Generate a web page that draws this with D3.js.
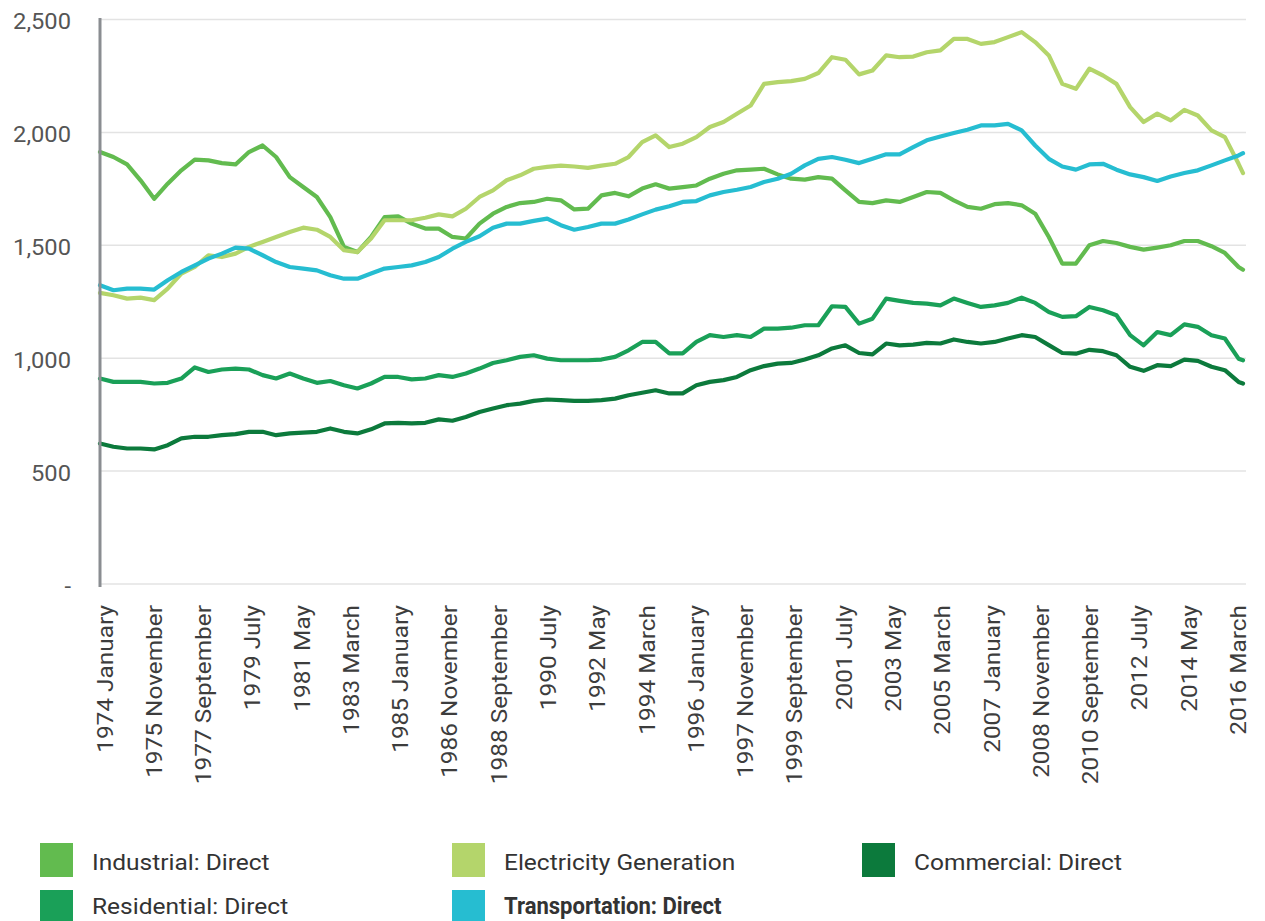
<!DOCTYPE html>
<html>
<head>
<meta charset="utf-8">
<script src="https://cdn.jsdelivr.net/npm/d3@7"></script>
<style>
  body { margin: 0; background: #fff; }
  svg { display: block; font-family: Roboto, "Noto Sans", sans-serif; }
</style>
</head>
<body>
<script>
// values every 6 months from 1974 January, last point 2016 March
let monthOffsets = d3.range(0, 505, 6).concat([506]);

let industrial = [1913,1891,1858,1788,1706,1773,1832,1879,1876,1864,
  1858,1913,1942,1891,1802,1758,1714,1625,1493,1470,
  1537,1625,1628,1596,1574,1574,1537,1530,1596,1640,
  1670,1687,1692,1706,1699,1659,1662,1721,1732,1717,
  1751,1770,1751,1758,1765,1795,1817,1832,1835,1839,
  1814,1795,1791,1802,1795,1743,1692,1687,1699,1692,
  1714,1736,1732,1699,1670,1662,1682,1687,1677,1640,
  1537,1419,1419,1500,1519,1510,1493,1481,1490,1500,
  1519,1519,1496,1466,1404,1392];

let electricity = [1289,1279,1264,1268,1257,1308,1375,1404,1456,1448,
  1463,1493,1515,1537,1559,1578,1569,1537,1478,1470,
  1530,1611,1611,1611,1622,1637,1628,1662,1714,1743,
  1788,1810,1839,1847,1853,1849,1843,1853,1861,1891,
  1957,1987,1935,1950,1979,2024,2046,2083,2119,2215,
  2223,2227,2237,2263,2333,2322,2257,2274,2341,2333,
  2336,2355,2363,2414,2414,2392,2400,2422,2444,2400,
  2341,2215,2193,2282,2252,2215,2112,2046,2083,2053,
  2100,2075,2009,1979,1861,1820];

let commercial = [622,608,600,600,596,615,645,652,652,659,
  664,674,674,659,667,670,674,689,674,667,
  685,711,714,711,714,729,723,740,762,777,
  792,799,811,817,814,811,811,814,821,836,
  847,858,844,844,880,895,903,917,947,965,
  976,979,994,1013,1043,1057,1023,1017,1065,1057,
  1060,1068,1065,1083,1072,1065,1072,1087,1102,1094,
  1058,1023,1020,1037,1031,1013,962,944,969,965,
  994,988,962,947,895,888];

let residential = [910,895,895,895,888,891,910,959,939,950,
  954,950,925,910,932,910,891,899,880,866,
  888,917,917,906,910,925,917,932,954,979,
  991,1006,1013,998,991,991,991,994,1006,1035,
  1072,1072,1021,1021,1072,1102,1094,1102,1094,1131,
  1131,1135,1146,1146,1230,1227,1153,1175,1264,1254,
  1245,1242,1234,1264,1245,1227,1234,1245,1268,1245,
  1205,1183,1186,1227,1212,1190,1102,1057,1116,1102,
  1150,1139,1102,1087,998,991];

let transportation = [1323,1301,1308,1308,1304,1345,1382,1411,1441,1463,
  1490,1485,1456,1426,1404,1397,1389,1367,1352,1352,
  1375,1397,1404,1411,1426,1448,1485,1515,1540,1578,
  1596,1596,1608,1618,1589,1569,1581,1596,1596,1614,
  1637,1658,1673,1692,1696,1721,1736,1746,1758,1780,
  1795,1817,1854,1883,1891,1879,1864,1883,1903,1903,
  1935,1965,1982,1997,2012,2031,2031,2038,2009,1942,
  1883,1849,1835,1858,1861,1835,1814,1802,1785,1805,
  1820,1832,1854,1876,1898,1908];

let seriesNames = ["Industrial: Direct", "Electricity Generation", "Commercial: Direct",
  "Residential: Direct", "Transportation: Direct"];
let seriesColors = ["#62bb4f", "#b4d56b", "#0c7a3c", "#1aa058", "#26bdd1"];
let seriesValues = [industrial, electricity, commercial, residential, transportation];

let yTicks = [0, 500, 1000, 1500, 2000, 2500];
let tickStep = 22; // months between x labels

let width = 1265;
let height = 921;

let start = new Date(1974, 0, 1);
let end = new Date(2016, 2, 1);
let dates = monthOffsets.map((m) => d3.timeMonth.offset(start, m));

let svg = d3
  .select("body")
  .append("svg")
  .attr("width", width)
  .attr("height", height);

let x = d3.scaleTime().domain([start, end]).range([100, 1243]);
// the category labels sit on a slightly narrower band than the lines
let xLabel = d3.scaleTime().domain([start, end]).range([105, 1238.5]);
let y = d3.scaleLinear().domain([0, 2500]).range([584, 19.5]);

// gridlines
svg
  .append("g")
  .selectAll("line")
  .data(yTicks)
  .enter()
  .append("line")
  .attr("x1", 100)
  .attr("x2", 1246)
  .attr("y1", (d) => y(d))
  .attr("y2", (d) => y(d))
  .attr("stroke", "#e3e3e3")
  .attr("stroke-width", 1.5);

// y labels
svg
  .append("g")
  .selectAll("text")
  .data(yTicks)
  .enter()
  .append("text")
  .attr("transform", (d) => `translate(71,${y(d) + 2.5}) scale(1,0.9)`)
  .attr("dy", "0.35em")
  .attr("text-anchor", "end")
  .attr("fill", "#555")
  .style("font-size", "23.7px")
  .text((d) => (d === 0 ? "-" : d3.format(",")(d)));

// x labels
let xTickDates = d3.range(0, 507, tickStep).map((m) => d3.timeMonth.offset(start, m));
let fmt = d3.timeFormat("%Y %B");
svg
  .append("g")
  .selectAll("text")
  .data(xTickDates)
  .enter()
  .append("text")
  .attr("transform", (d) => `translate(${xLabel(d)},605) rotate(-90) scale(1,0.88)`)
  .attr("dy", "0.35em")
  .attr("text-anchor", "end")
  .attr("fill", "#3d3d3d")
  .style("font-size", "24.4px")
  .text((d) => fmt(d));

// lines
let line = d3
  .line()
  .x((d, i) => x(dates[i]))
  .y((d) => y(d));

svg
  .append("g")
  .selectAll("path")
  .data(seriesValues)
  .enter()
  .append("path")
  .attr("d", (d) => line(d))
  .attr("fill", "none")
  .attr("stroke", (d, i) => seriesColors[i])
  .attr("stroke-width", 4.2)
  .attr("stroke-linejoin", "round")
  .attr("stroke-linecap", "round");

// y axis line
svg
  .append("line")
  .attr("x1", 100)
  .attr("x2", 100)
  .attr("y1", 18)
  .attr("y2", 587)
  .attr("stroke", "#8a8d91")
  .attr("stroke-width", 3);

// legend
let legendPos = [
  [40, 843], [452, 843], [862, 843],
  [40, 890], [452, 890]
];
let legend = svg
  .append("g")
  .selectAll("g")
  .data(seriesNames)
  .enter()
  .append("g")
  .attr("transform", (d, i) => `translate(${legendPos[i][0]},${legendPos[i][1]})`);

legend
  .append("rect")
  .attr("width", 33)
  .attr("height", 34)
  .attr("fill", (d, i) => seriesColors[i]);

// second row sits low in the frame, keep its descenders inside
legend
  .append("text")
  .attr("transform", (d, i) =>
    i === 4
      ? "translate(52,24) scale(0.9,0.95)"
      : `translate(52,${i < 3 ? 27 : 24}) scale(1,0.92)`
  )
  .attr("fill", "#333")
  .style("font-size", "24.5px")
  .style("font-weight", (d, i) => (i === 4 ? "bold" : "normal"))
  .text((d) => d);
</script>
</body>
</html>
